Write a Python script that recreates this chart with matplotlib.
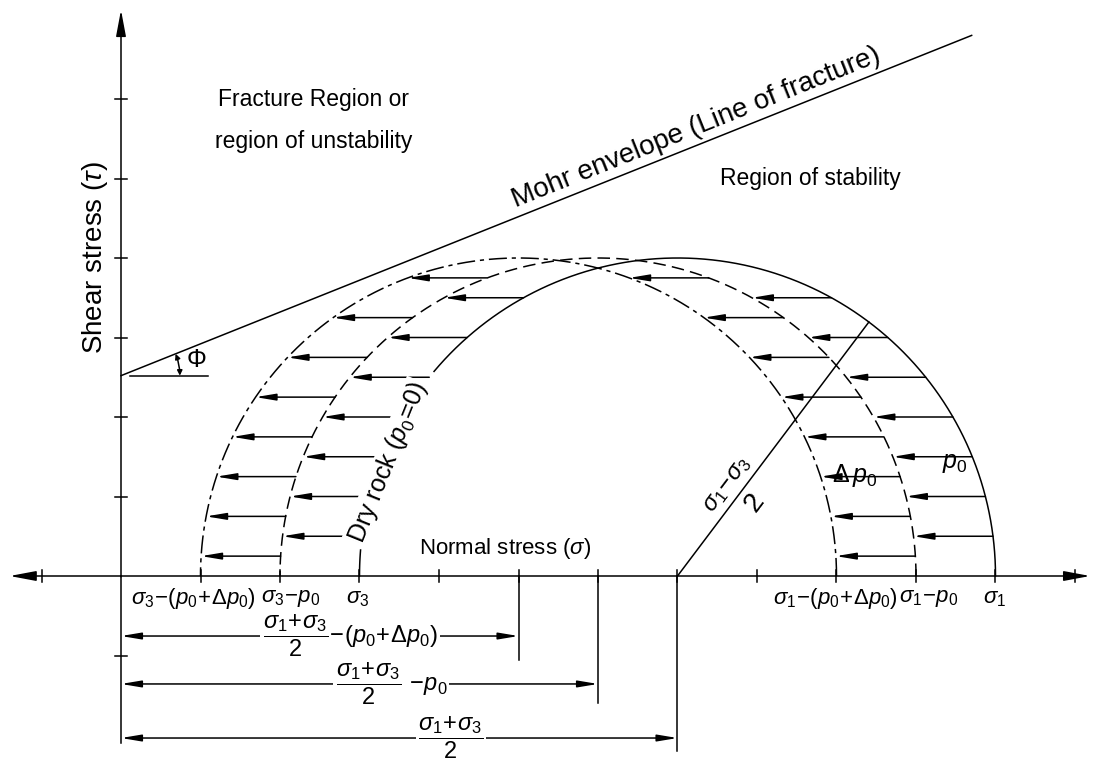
import numpy as np
import matplotlib.pyplot as plt
from matplotlib.patches import FancyArrowPatch

plt.rcParams['font.family'] = ['Liberation Sans', 'DejaVu Sans']
plt.rcParams['mathtext.fontset'] = 'custom'
plt.rcParams['mathtext.rm'] = 'Liberation Sans'
plt.rcParams['mathtext.it'] = 'Liberation Sans:italic'
plt.rcParams['mathtext.bf'] = 'Liberation Sans:bold'
plt.rcParams['lines.scale_dashes'] = False

# principal stresses and pore pressure steps (one tick = one unit)
sigma3 = 3.0
sigma1 = 11.0
p0 = 1.0
dp0 = 1.0

# Mohr envelope: intercept on the shear axis and slope tan(phi)
cohesion = 2.52
tan_phi = 0.40
envelope_end = 10.7

# heights of the shift arrows
levels_p0 = [0.5, 1.0, 1.5, 2.0, 2.5, 3.0, 3.5]
levels_dp0 = [0.25, 0.75, 1.25, 1.75, 2.25, 2.75, 3.25, 3.75]

x_ticks = [-1, 1, 2, 3, 4, 5, 6, 7, 8, 9, 10, 11, 12]
y_ticks = [-1, 1, 2, 3, 4, 5, 6]

PX = 79.5  # pixels per unit
fig = plt.figure(figsize=(10.95, 7.61), dpi=100)
ax = fig.add_axes([0, 0, 1, 1])
ax.set_xlim(-121 / PX, (1095 - 121) / PX)
ax.set_ylim(-(761 - 576) / PX, 576 / PX)
ax.axis('off')

K = dict(color='black')
LW = 1.1
HEAD = '-|>,head_length=1.2,head_width=0.2'


def arrow(x0, y0, x1, y1, style=HEAD, lw=LW):
    ax.annotate('', xy=(x1, y1), xytext=(x0, y0),
                arrowprops=dict(arrowstyle=style, lw=lw, color='black',
                                shrinkA=0, shrinkB=0))


# axes with arrows
arrow(0, 0, 12.19, 0, style='-|>,head_length=1.6,head_width=0.3')
arrow(0, 0, -1.4, 0, style='-|>,head_length=1.6,head_width=0.3')
ax.plot([0, 0], [-2.1, 0], lw=LW, **K)
arrow(0, -0.01, 0, 7.12, style='-|>,head_length=1.6,head_width=0.3')
for x in x_ticks:
    ax.plot([x, x], [-0.07, 0.07], lw=LW, **K)
for y in y_ticks:
    ax.plot([-0.08, 0.08], [y, y], lw=LW, **K)

# Mohr circles
theta = np.linspace(0, np.pi, 500)


def circle(s3, s1):
    c = (s1 + s3) / 2
    r = (s1 - s3) / 2
    return c, r, c + r * np.cos(theta), r * np.sin(theta)


c0, r0, xs, ys = circle(sigma3, sigma1)
deg = np.degrees(theta)
ax.plot(xs[deg <= 140], ys[deg <= 140], lw=LW, **K)
ax.plot(xs[deg >= 175], ys[deg >= 175], lw=LW, **K)

c1, r1, xd, yd = circle(sigma3 - p0, sigma1 - p0)
ax.plot(xd, yd, lw=LW, ls=(0, (9, 4.5)), **K)

c2, r2, xdd, ydd = circle(sigma3 - p0 - dp0, sigma1 - p0 - dp0)
ax.plot(xdd, ydd, lw=LW, ls=(0, (13, 3.5, 3, 3.5)), **K)

# shift arrows: dry circle -> p0 circle, p0 circle -> p0+dp0 circle
for y in levels_p0:
    h = np.sqrt(r0 ** 2 - y ** 2)
    for xs0 in (c0 + h, c0 - h):
        arrow(xs0, y, xs0 - p0, y)
for y in levels_dp0:
    h = np.sqrt(r1 ** 2 - y ** 2)
    for xs0 in (c1 + h, c1 - h):
        arrow(xs0, y, xs0 - dp0, y)

# Mohr envelope and friction angle
ax.plot([0, envelope_end], [cohesion, cohesion + tan_phi * envelope_end], lw=LW, **K)
ax.plot([0.11, 1.10], [cohesion, cohesion], lw=LW, **K)
phi = np.arctan(tan_phi)
ra = 0.74
ax.add_patch(FancyArrowPatch((ra, cohesion), (ra * np.cos(phi), cohesion + ra * np.sin(phi)),
                             arrowstyle='<|-|>,head_length=3,head_width=1.5',
                             connectionstyle='arc3,rad=0.09', lw=LW, color='black',
                             shrinkA=0, shrinkB=0))
ax.text(0.95, 2.72, 'Φ', fontsize=18, ha='center', va='center')

mid = 7.3
ax.text(mid, cohesion + tan_phi * mid + 0.05, 'Mohr envelope (Line of fracture)',
        fontsize=20, rotation=np.degrees(phi), rotation_mode='anchor',
        ha='center', va='bottom')

# radius of the dry circle
ang = np.radians(53)
ax.plot([c0, c0 + r0 * np.cos(ang)], [0, r0 * np.sin(ang)], lw=LW, **K)
u = np.array([np.cos(ang), np.sin(ang)])
n = np.array([-np.sin(ang), np.cos(ang)])
p = np.array([c0, 0]) + 1.29 * u + 0.19 * n
ax.text(p[0], p[1], r'$\sigma_1\!-\!\sigma_3$', fontsize=17, rotation=53,
        rotation_mode='anchor', ha='center', va='center')
p = np.array([c0, 0]) + 1.32 * u - 0.22 * n
ax.text(p[0], p[1], '2', fontsize=20, rotation=53,
        rotation_mode='anchor', ha='center', va='center')

# label along the dry circle
tl = np.radians(159)
ax.text(c0 + r0 * np.cos(tl) + 0.1, r0 * np.sin(tl), r'Dry rock ($p_0\!=\!0$)', fontsize=18,
        rotation=68, rotation_mode='anchor', ha='center', va='center',
        bbox=dict(boxstyle='square,pad=0.05', fc='white', ec='none'), zorder=5)

ax.text(9.23, 1.26, r'$\Delta\,p_0$', fontsize=18, ha='center', va='center')
ax.text(10.49, 1.42, r'$p_0$', fontsize=18, ha='center', va='center')

# region labels
ax.text(2.42, 5.99, 'Fracture Region or', fontsize=16.5, ha='center', va='center')
ax.text(2.42, 5.46, 'region of unstability', fontsize=16.5, ha='center', va='center')
ax.text(7.53, 5.0, 'Region of stability', fontsize=16.5, ha='left', va='center')
ax.text(4.83, 0.34, r'Normal stress ($\sigma$)', fontsize=16, ha='center', va='center')
ax.text(-0.33, 4.0, r'Shear stress ($\tau$)', fontsize=20, ha='center', va='center',
        rotation=90)

# labels under the normal-stress axis
ly = -0.28
ax.text(0.905, ly, r'$\sigma_3\!-\!(p_0\!+\!\Delta p_0)$', fontsize=16, ha='center', va='center')
ax.text(2.13, ly, r'$\sigma_3\!-\!p_0$', fontsize=16, ha='center', va='center')
ax.text(2.98, ly, r'$\sigma_3$', fontsize=16, ha='center', va='center')
ax.text(8.98, ly, r'$\sigma_1\!-\!(p_0\!+\!\Delta p_0)$', fontsize=16, ha='center', va='center')
ax.text(10.16, ly, r'$\sigma_1\!-\!p_0$', fontsize=16, ha='center', va='center')
ax.text(10.99, ly, r'$\sigma_1$', fontsize=16, ha='center', va='center')

# dimension lines for the circle centres
dims = [
    (c2, -0.755, -1.06, 2.88, r'$\dfrac{\sigma_1\!+\!\sigma_3}{2}\!-\!(p_0\!+\!\Delta p_0)$'),
    (c1, -1.358, -1.6, 3.40, r'$\dfrac{\sigma_1\!+\!\sigma_3}{2}\ \!-\!p_0$'),
    (c0, -2.038, -2.2, 4.15, r'$\dfrac{\sigma_1\!+\!\sigma_3}{2}$'),
]
for xc, yl, ybot, xt, label in dims:
    ax.plot([xc, xc], [0, ybot], lw=LW, **K)
    arrow(0, yl, xc, yl, style='<|-|>,head_length=1.2,head_width=0.2')
    ax.text(xt, yl, label, fontsize=17, ha='center', va='center',
            bbox=dict(boxstyle='square,pad=0.1', fc='white', ec='none'), zorder=5)

fig.savefig('out.png', dpi=100)
